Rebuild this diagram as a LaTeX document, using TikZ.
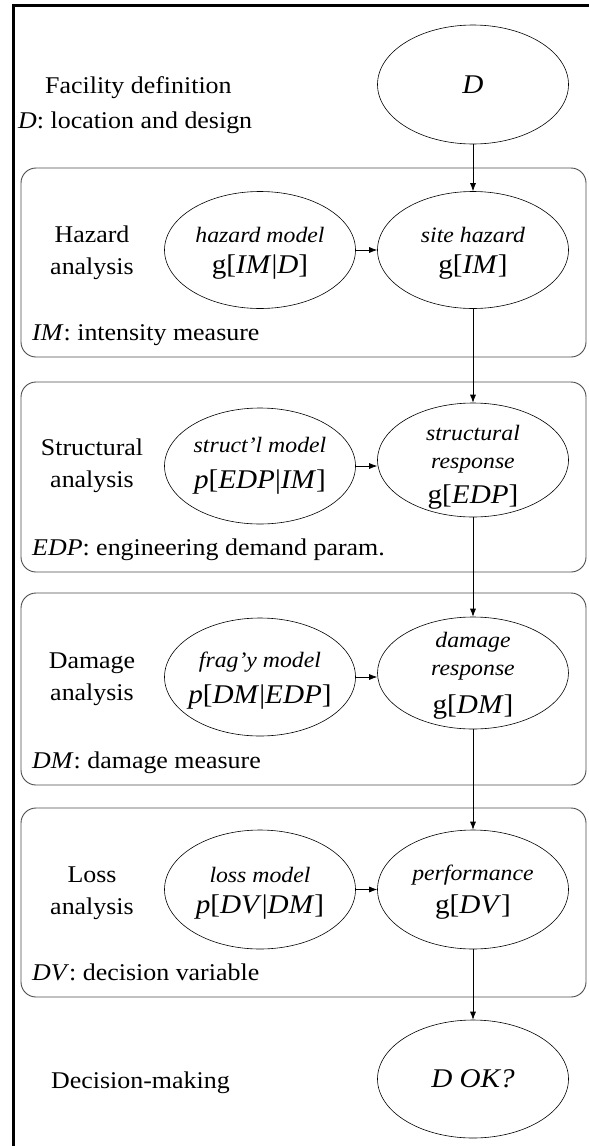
\documentclass[tikz,border=0pt]{standalone}
\usepackage{fontspec}
\setmainfont{Liberation Serif}[FakeStretch=1.08]
\usetikzlibrary{arrows.meta,shapes.geometric}
\begin{document}
\begin{tikzpicture}[x=1pt,y=-1pt,
  ell/.style={draw, ellipse, line width=0.6pt, minimum width=191pt, inner sep=0pt},
  grp/.style={draw=black!70, line width=0.9pt, rounded corners=15pt, minimum width=565pt, inner sep=0pt},
  lbl/.style={inner sep=0pt, font=\fontsize{24}{24}\selectfont},
  small/.style={inner sep=0pt, anchor=base, font=\fontsize{22}{22}\selectfont\itshape},
  big/.style={inner sep=0pt, anchor=base, font=\fontsize{27}{27}\selectfont},
  arr/.style={-{Latex[length=8pt,width=6pt]}, line width=0.7pt}]
\useasboundingbox (0,0) rectangle (589,1146);
\clip (0,0) rectangle (589,1146);
\draw[line width=3.3pt] (13.5,1160) -- (13.5,5.7) -- (600,5.7);

% group boxes
\node[grp, minimum height=189pt] (hzbox) at (303.5,262.5) {};
\node[grp, minimum height=190pt] (stbox) at (303.5,477) {};
\node[grp, minimum height=192pt] (dmbox) at (303.5,689) {};
\node[grp, minimum height=189pt] (lsbox) at (303.5,902.5) {};

% facility
\node[ell, minimum height=119pt, font=\fontsize{27}{27}\selectfont\itshape] (D) at (473,84.5) {D};
\node[lbl, anchor=base west] (fac) at (45,93) {Facility definition};
\node[lbl, anchor=base west] (facD) at (18,128) {\textit{D}: location and design};

% hazard
\node[ell, minimum height=117pt] (hm) at (260,250) {};
\node[ell, minimum height=117pt] (sh) at (473,250) {};
\node[lbl, anchor=base] (hz1) at (92,242) {Hazard};
\node[lbl, anchor=base] (hz2) at (92,274) {analysis};
\node[small] (hmt) at (260,242) {hazard model};
\node[big] (hmf) at (260,273) {g[\textit{IM}|\textit{D}]};
\node[small] (sht) at (473,242) {site hazard};
\node[big] (shf) at (473,273) {g[\textit{IM}]};
\node[lbl, anchor=base west] (imlbl) at (32,340) {\textit{IM}: intensity measure};

% structural
\node[ell, minimum height=116pt] (sm) at (260,466) {};
\node[ell, minimum height=114pt] (sr) at (473,460) {};
\node[lbl, anchor=base] (st1) at (92,455) {Structural};
\node[lbl, anchor=base] (st2) at (92,487) {analysis};
\node[small] (smt) at (260,452) {struct’l model};
\node[big] (smf) at (260,488) {\textit{p}[\textit{EDP}|\textit{IM}]};
\node[small] (srt1) at (473,440) {structural};
\node[small] (srt2) at (473,468) {response};
\node[big] (srf) at (473,503) {g[\textit{EDP}]};
\node[lbl, anchor=base west] (edplbl) at (32,555) {\textit{EDP}: engineering demand param.};

% damage
\node[ell, minimum height=118pt] (fm) at (260,677) {};
\node[ell, minimum height=112pt] (dr) at (473,673) {};
\node[lbl, anchor=base] (dm1) at (92,668) {Damage};
\node[lbl, anchor=base] (dm2) at (92,700) {analysis};
\node[small] (fmt) at (260,667) {frag’y model};
\node[big] (fmf) at (260,703) {\textit{p}[\textit{DM}|\textit{EDP}]};
\node[small] (drt1) at (473,647) {damage};
\node[small] (drt2) at (473,675) {response};
\node[big] (drf) at (473,713) {g[\textit{DM}]};
\node[lbl, anchor=base west] (dmlbl) at (32,768) {\textit{DM}: damage measure};

% loss
\node[ell, minimum height=119pt] (lm) at (260,889.5) {};
\node[ell, minimum height=119pt] (pf) at (473,889.5) {};
\node[lbl, anchor=base] (ls1) at (92,882) {Loss};
\node[lbl, anchor=base] (ls2) at (92,914) {analysis};
\node[small] (lmt) at (260,882) {loss model};
\node[big] (lmf) at (260,913) {\textit{p}[\textit{DV}|\textit{DM}]};
\node[small] (pft) at (473,880) {performance};
\node[big] (pff) at (473,913) {g[\textit{DV}]};
\node[lbl, anchor=base west] (dvlbl) at (32,980) {\textit{DV}: decision variable};

% decision
\node[ell, minimum height=118pt, font=\fontsize{27}{27}\selectfont\itshape] (ok) at (473,1079) {D OK?};
\node[lbl, anchor=base west] (dec) at (51,1088) {Decision-making};

% arrows
\draw[arr] (D.south) -- (sh.north);
\draw[arr] (sh.south) -- (sr.north);
\draw[arr] (sr.south) -- (dr.north);
\draw[arr] (dr.south) -- (pf.north);
\draw[arr] (pf.south) -- (ok.north);
\draw[arr] (hm.east) -- (sh.west);
\draw[arr] (sm.east) -- (sm.east -| sr.west);
\draw[arr] (fm.east) -- (fm.east -| dr.west);
\draw[arr] (lm.east) -- (pf.west);
\end{tikzpicture}
\end{document}
